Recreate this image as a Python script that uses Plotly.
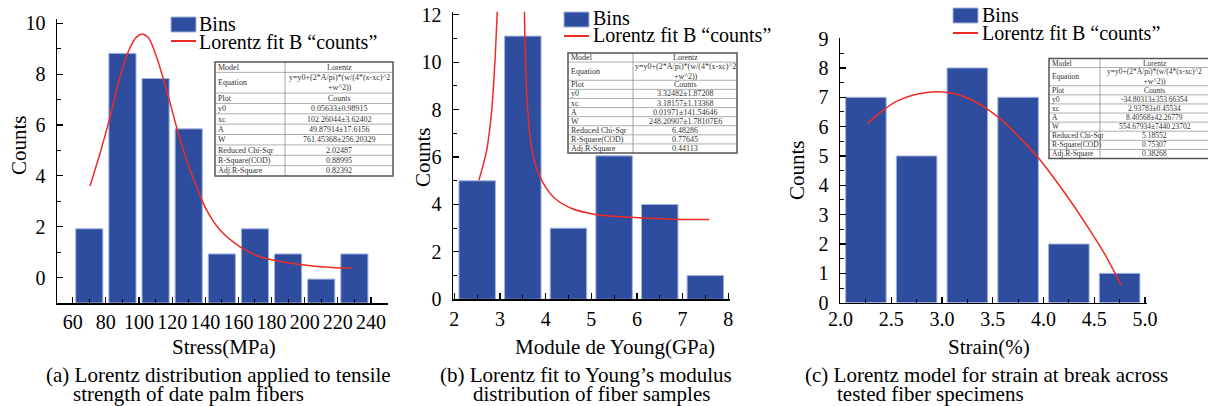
import plotly.graph_objects as go

W, H = 1208, 406
FONT = "Liberation Serif, Times New Roman, serif"

# ---------------- data ----------------
# (a) tensile strength
a_bins = [70, 90, 110, 130, 150, 170, 190, 210, 230]
a_counts = [1.92, 8.82, 7.83, 5.85, 0.93, 1.92, 0.93, -0.06, 0.93]
a_fit_x = [70.4, 76.4, 82.5, 88.5, 94.6, 98.6, 102.0, 105.6, 110.7, 116.7, 122.7,
           128.8, 134.8, 140.8, 148.9, 161.0, 173.0, 189.1, 209.2, 228.3]
a_fit_y = [3.60, 4.87, 6.31, 7.88, 9.05, 9.47, 9.58, 9.44, 8.66, 7.36, 5.92,
           4.61, 3.57, 2.65, 1.87, 1.21, 0.82, 0.59, 0.43, 0.37]
a_table = [("Model", "Lorentz"),
           ("Equation", "y=y0+(2*A/pi)*(w/(4*(x-xc)^2<br>+w^2))"),
           ("Plot", "Counts"),
           ("y0", "0.05633±0.98915"),
           ("xc", "102.26044±3.62402"),
           ("A", "49.87914±17.6156"),
           ("W", "761.45368±256.20329"),
           ("Reduced Chi-Sqr", "2.02487"),
           ("R-Square(COD)", "0.88995"),
           ("Adj.R-Square", "0.82392")]

# (b) Young's modulus
b_bins = [2.5, 3.5, 4.5, 5.5, 6.5, 7.5]
b_counts = [5, 11.1, 3, 6.05, 4, 1]
b_fit_x = [2.54, 2.709, 2.819, 2.891, 2.941, None,
           3.534, 3.549, 3.586, 3.659, 3.768, 3.95, 4.207, 4.573, 5.084, 5.669,
           6.40, 6.985, 7.584]
b_fit_y = [5.03, 6.29, 7.98, 10.10, 12.21, None,
           12.21, 10.80, 8.69, 6.86, 5.73, 4.89, 4.25, 3.83, 3.58, 3.48,
           3.41, 3.37, 3.37]
b_table = [("Model", "Lorentz"),
           ("Equation", "y=y0+(2*A/pi)*(w/(4*(x-xc)^2<br>+w^2))"),
           ("Plot", "Counts"),
           ("y0", "3.32482±1.87208"),
           ("xc", "3.18157±1.13368"),
           ("A", "0.01971±141.54646"),
           ("W", "248.20907±1.78107E6"),
           ("Reduced Chi-Sqr", "6.48286"),
           ("R-Square(COD)", "0.77645"),
           ("Adj.R-Square", "0.44113")]

# (c) strain at break
c_bins = [2.25, 2.75, 3.25, 3.75, 4.25, 4.75]
c_counts = [7, 5, 8, 7, 2, 1]
c_fit_x = [2.267, 2.381, 2.545, 2.709, 2.872, 3.004, 3.135, 3.299, 3.462,
           3.626, 3.790, 3.953, 4.117, 4.281, 4.444, 4.608, 4.765]
c_fit_y = [6.11, 6.45, 6.85, 7.07, 7.17, 7.18, 7.11, 6.90, 6.56,
           6.11, 5.54, 4.92, 4.18, 3.39, 2.54, 1.63, 0.61]
c_table = [("Model", "Lorentz"),
           ("Equation", "y=y0+(2*A/pi)*(w/(4*(x-xc)^2<br>+w^2))"),
           ("Plot", "Counts"),
           ("y0", "-34.80313±353.66354"),
           ("xc", "2.93783±0.45534"),
           ("A", "8.40568±42.26779"),
           ("W", "554.67934±7440.23702"),
           ("Reduced Chi-Sqr", "5.18552"),
           ("R-Square(COD)", "0.75307"),
           ("Adj.R-Square", "0.38268")]

captions = [
    ("(a) Lorentz distribution applied to tensile", 45, 375),
    ("strength of date palm fibers", 72, 393.5),
    ("(b) Lorentz fit to Young’s modulus", 439, 375),
    ("distribution of fiber samples", 472, 393.5),
    ("(c) Lorentz model for strain at break across", 804, 375),
    ("tested fiber specimens", 836, 393.5),
]

BAR_COLOR = "#2f4d9e"
BAR_EDGE = "rgba(165,180,225,1)"
RED = "#ee2b24"


def px(x, y):
    return x / W, 1 - y / H


fig = go.Figure()

panels = [
    ("x", "y", a_bins, a_counts, 16.4, -1.0, a_fit_x, a_fit_y),
    ("x2", "y2", b_bins, b_counts, 0.80, 0.0, b_fit_x, b_fit_y),
    ("x3", "y3", c_bins, c_counts, 0.40, 0.0, c_fit_x, c_fit_y),
]
for xa, ya, bx, by, bw, base, fx, fy in panels:
    fig.add_trace(go.Bar(x=bx, y=[v - base for v in by], base=base, width=bw,
                         marker=dict(color=BAR_COLOR, line=dict(color=BAR_EDGE, width=1)),
                         xaxis=xa, yaxis=ya, showlegend=False, hoverinfo="skip"))
    fig.add_trace(go.Scatter(x=fx, y=fy, mode="lines", connectgaps=False,
                             line=dict(color=RED, width=1.5, shape="spline", smoothing=0.8),
                             xaxis=xa, yaxis=ya, showlegend=False, hoverinfo="skip"))


def xdom(l, r):
    return [l / W, r / W]


def ydom(b, t):
    return [1 - b / H, 1 - t / H]


tickfont = dict(family=FONT, size=20, color="black")
common = dict(showline=True, linecolor="black", linewidth=1.5, showgrid=False,
              zeroline=False, ticks="inside", tickcolor="black", ticklen=6,
              tickwidth=1.2, tickfont=tickfont, automargin=False)
minor = lambda d: dict(dtick=d, ticks="inside", ticklen=4, tickcolor="black", tickwidth=1)

fig.update_layout(
    template="none",
    width=W, height=H, margin=dict(l=0, r=0, t=0, b=0, pad=0), autosize=False,
    paper_bgcolor="white", plot_bgcolor="white", bargap=0, showlegend=False,
    font=dict(family=FONT, color="black"), hovermode=False,
    xaxis=dict(domain=xdom(57, 388), range=[50.5, 250.3], tick0=60, dtick=20,
               minor=minor(10), anchor="y", ticklabelstandoff=0, **common),
    yaxis=dict(domain=ydom(303, 19.3), range=[-1, 10.16], tick0=0, dtick=2,
               minor=minor(1), anchor="x", ticklabelstandoff=6, **common),
    xaxis2=dict(domain=xdom(453, 730), range=[1.97, 8.04], tick0=2, dtick=1,
                minor=minor(0.5), anchor="y2", ticklabelstandoff=1, **common),
    yaxis2=dict(domain=ydom(299.3, 11.7), range=[0, 12.13], tick0=0, dtick=2,
                minor=minor(1), anchor="x2", ticklabelstandoff=6, **common),
    xaxis3=dict(domain=xdom(840, 1147), range=[1.995, 5.02], tick0=2, dtick=0.5,
                tickformat=".1f", minor=minor(0.25), anchor="y3",
                ticklabelstandoff=-2, **common),
    yaxis3=dict(domain=ydom(302.7, 38), range=[0, 9.02], tick0=0, dtick=1,
                minor=minor(0.5), anchor="x3", ticklabelstandoff=6, **common),
)

shapes = []
annots = []


def text(t, x, y, size, xanchor="center", yanchor="middle", angle=0, color="black"):
    X, Y = px(x, y)
    annots.append(dict(text=t, x=X, y=Y, xref="paper", yref="paper", showarrow=False,
                       xanchor=xanchor, yanchor=yanchor, textangle=angle, borderpad=0,
                       font=dict(family=FONT, size=size, color=color)))


def rect(x0, y0, x1, y1, fill=None, line_color=None, lw=1):
    X0, Y0 = px(x0, y0)
    X1, Y1 = px(x1, y1)
    shapes.append(dict(type="rect", xref="paper", yref="paper", x0=X0, y0=Y0, x1=X1, y1=Y1,
                       fillcolor=fill or "rgba(0,0,0,0)",
                       line=dict(color=line_color or "rgba(0,0,0,0)", width=lw if line_color else 0)))


def line(x0, y0, x1, y1, color, lw):
    X0, Y0 = px(x0, y0)
    X1, Y1 = px(x1, y1)
    shapes.append(dict(type="line", xref="paper", yref="paper", x0=X0, y0=Y0, x1=X1, y1=Y1,
                       line=dict(color=color, width=lw)))


# legends
for (sx, by0, by1, ly, tx, t1y, t2y) in [(171, 17, 32, 41, 198, 24, 42),
                                         (564, 12, 27, 36, 592, 18, 35),
                                         (953, 8, 23, 33, 981, 15, 33)]:
    rect(sx, by0, sx + 25, by1, fill=BAR_COLOR, line_color=BAR_EDGE, lw=1)
    line(sx, ly, sx + 25, ly, RED, 2)
    text("Bins", tx, t1y, 20, xanchor="left")
    text("Lorentz fit B “counts”", tx, t2y, 20, xanchor="left")


def table(x0, xd, x1, y0, y1, rows, fs):
    unit = (y1 - y0) / 11.0
    rect(x0, y0, x1, y1, fill="white")
    y = y0
    for i, (lab, val) in enumerate(rows):
        h = unit * (2 if lab == "Equation" else 1)
        if i > 0:
            line(x0, y, x1, y, "#9a9a9a", 0.8)
        text(lab, x0 + 2, y + h / 2, fs, xanchor="left", color="#333333")
        text(val, (xd + x1) / 2, y + h / 2, fs, color="#333333")
        y += h
    line(xd, y0, xd, y1, "#8a8a8a", 0.8)
    rect(x0, y0, x1, y1, line_color="#555555", lw=1.5)


table(215, 285, 393, 62, 176, a_table, 8)
table(568, 633, 737, 53, 153, b_table, 8)
table(1049, 1100, 1209, 58.5, 158.5, c_table, 7.5)

# axis titles
text("Counts", 19, 145, 21, angle=-90)
text("Stress(MPa)", 224, 347, 21)
text("Counts", 423, 157, 21, angle=-90)
text("Module de Young(GPa)", 615, 347, 21)
text("Counts", 797, 170, 21, angle=-90)
text("Strain(%)", 989, 347, 21)

for t, x, y in captions:
    text(t, x, y, 21, xanchor="left")

fig.update_layout(shapes=shapes, annotations=annots)
fig.write_html("out.html", config={"displayModeBar": False, "staticPlot": True},
               post_script="document.body.style.margin='0px';"
                           "document.body.style.overflow='hidden';")
